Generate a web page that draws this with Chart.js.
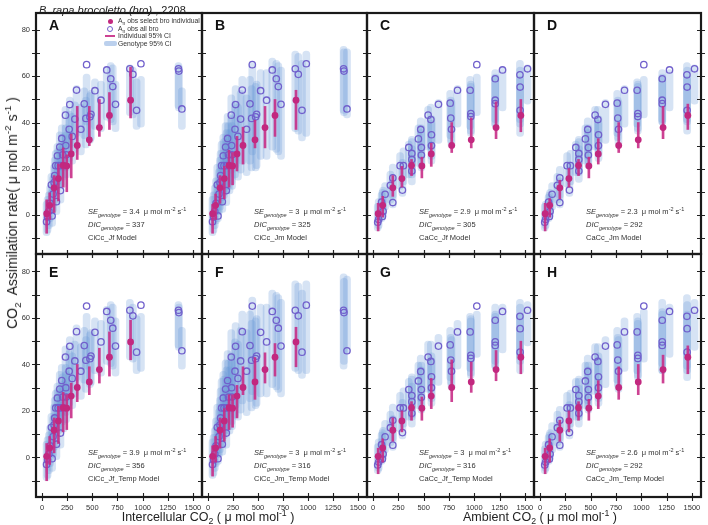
<!DOCTYPE html>
<html>
<head>
<meta charset="utf-8">
<script src="https://cdn.jsdelivr.net/npm/chart.js@4.4.1/dist/chart.umd.min.js"></script>
<style>
  body { margin: 0; width: 708px; height: 525px; background: #fff; position: relative; overflow: hidden;
         font-family: "Liberation Sans", Arial, Helvetica, sans-serif; color: #222; }
  canvas { position: absolute; }
  .t { position: absolute; white-space: nowrap; line-height: 1; z-index: 5; }
  .t sub, .t sup { line-height: 0; }
  .ann { font-size: 7.5px; color: #333; transform: translateY(-50%); }
  .ann sub, .ann sup { font-size: 5.5px; }
  .letter { font-size: 14px; font-weight: bold; color: #111; transform: translateY(-50%); }
  .axt { color: #222; }
  .axt sub, .axt sup { font-size: 70%; }
  .leg { font-size: 6.8px; color: #333; transform: translateY(-50%); }
  .leg sub { font-size: 5px; }
  .sym { position: absolute; z-index: 5; }
</style>
</head>
<body>
<script>
// tick positions
const xTicks = [0, 250, 500, 750, 1000, 1250, 1500];
const yTicks = [-10, 0, 10, 20, 30, 40, 50, 60, 70, 80];

// A_n obs all bro, against intercellular CO2 (panels A, B, E, F)
const ciX = [45, 55, 68, 80, 93, 100, 110, 120, 126, 136, 143, 153, 160, 176, 183, 185, 196, 205, 215, 233,
             236, 240, 270, 276, 300, 326, 343, 386, 420, 436, 443, 476, 486, 526, 586, 643, 683, 703, 730, 873,
             903, 940, 983, 1356, 1360, 1390];
const ciY = [-3, -1, 1.5, 5, 13, -0.5, 9, 14, 17, 21.3, 5.7, 25.6, 21.3, 29.4, 10.5, 21.3, 33.1, 26, 21.3, 43.2,
             30, 26, 37.1, 47.8, 34, 41.5, 54.1, 37.1, 48.1, 41.8, 65.1, 42.5, 43.6, 53.8, 49.7, 62.8, 59, 55.6, 47.9, 63.3,
             60.9, 45.3, 65.5, 63.3, 62.3, 45.9];
// selected individual
const ciSelX = [46, 76, 120, 163, 210, 246, 290, 350, 470, 570, 670, 880];
const ciSelY = [0.5, 4.1, 11.7, 15.7, 21.4, 21.2, 26.4, 30.1, 32.5, 37.8, 43.1, 49.7];

// A_n obs all bro, against ambient CO2 (panels C, D, G, H)
const caX = [46, 55, 84, 92, 99, 119, 171, 195, 195, 267, 290, 300, 353, 383, 383, 383, 448, 471, 477, 477,
             544, 571, 577, 577, 646, 762, 768, 775, 834, 959, 966, 966, 1025, 1207, 1207, 1207, 1279, 1451, 1453, 1453,
             1526];
const caY = [-3.2, -2, 5.5, -0.7, 1.5, 8.9, 12.8, 5.3, 16, 21.3, 10.7, 21.3, 29.2, 26.6, 24, 19, 32.9, 37, 29.2, 25.9,
             43.2, 41.3, 34.7, 30, 47.9, 48.4, 41.9, 37.1, 54, 54, 43.9, 42.6, 65.1, 59, 49.7, 48.2, 62.8, 60.7, 55.4, 45.3,
             63.3];
const caSelX = [50, 95, 195, 285, 380, 482, 575, 777, 970, 1215, 1460];
const caSelY = [0.5, 4.1, 11.7, 15.7, 21.4, 21.2, 26.4, 30.1, 32.5, 37.8, 43.1];

// genotype 95% CI (one bar per observation)
const aLo = [-9, -8, -6, -3, 2, -5, 1, 4, 7, 10, 0, 13, 11, 16, 5, 12, 19, 15, 12, 25, 19, 16, 23, 29, 22, 27, 34, 26, 33, 29, 39, 31, 32, 37, 36, 41, 40, 39, 36, 43, 42, 37, 38, 46, 45, 37];
const aHi = [6, 8, 10, 13, 18, 11, 17, 22, 25, 28, 18, 31, 29, 36, 23, 30, 39, 35, 32, 47, 39, 36, 45, 51, 44, 49, 56, 48, 55, 51, 61, 53, 54, 59, 58, 64, 66, 65, 58, 65, 64, 59, 60, 66, 65, 55];
const bLo = [-9, -8, -6, -4, 0, -3, 0, 2, 4, 6, 1, 8, 7, 11, 4, 9, 13, 11, 9, 18, 13, 11, 16, 20, 15, 18, 22, 17, 22, 19, 26, 19, 20, 24, 24, 28, 27, 26, 24, 36, 35, 32, 34, 44, 43, 42];
const bHi = [8, 10, 13, 16, 22, 15, 20, 25, 28, 32, 22, 35, 33, 40, 28, 37, 44, 40, 37, 52, 43, 40, 49, 56, 48, 54, 60, 52, 60, 56, 66, 57, 58, 63, 63, 68, 67, 66, 64, 71, 70, 67, 71, 73, 72, 72];
const eLo = [-10, -9, -7, -4, 1, -6, 0, 3, 6, 9, -1, 12, 10, 15, 4, 11, 18, 14, 11, 24, 18, 15, 22, 28, 21, 26, 33, 25, 32, 28, 38, 30, 31, 36, 35, 40, 39, 38, 35, 42, 41, 36, 37, 47, 46, 38];
const eHi = [7, 9, 11, 14, 19, 12, 18, 23, 26, 29, 19, 32, 30, 37, 24, 31, 40, 36, 33, 48, 40, 37, 46, 52, 45, 50, 57, 49, 56, 52, 62, 54, 55, 60, 59, 65, 67, 66, 60, 68, 66, 61, 62, 67, 66, 56];
const fLo = [-9, -8, -6, -4, 0, -3, 0, 2, 4, 7, 1, 9, 8, 12, 4, 10, 14, 12, 10, 19, 14, 12, 17, 21, 16, 19, 23, 18, 24, 20, 27, 21, 22, 26, 26, 30, 29, 28, 26, 37, 36, 34, 36, 38, 40, 45];
const fHi = [8, 10, 13, 17, 23, 16, 21, 26, 30, 34, 23, 37, 35, 42, 29, 39, 46, 42, 39, 55, 45, 42, 51, 58, 50, 56, 63, 55, 63, 59, 69, 60, 61, 66, 66, 72, 71, 70, 68, 76, 75, 72, 76, 79, 77, 78];

const cLo = [-7, -6, -3, -2, -1, 2, 5, 3, 7, 11, 8, 13, 16, 17, 16, 13, 21, 24, 21, 19, 28, 28, 24, 22, 31, 33, 31, 29, 38, 37, 34, 35, 43, 40, 38, 38, 45, 40, 38, 34, 48];
const cHi = [5, 7, 10, 11, 12, 14, 19, 17, 22, 27, 24, 29, 32, 34, 33, 30, 39, 42, 39, 37, 47, 48, 43, 41, 50, 54, 51, 50, 56, 60, 57, 58, 61, 63, 60, 61, 64, 67, 64, 60, 65];
const dLo = [-7, -6, -3, -2, -1, 2, 5, 3, 7, 12, 8, 13, 17, 18, 17, 14, 22, 24, 22, 20, 28, 28, 25, 23, 31, 34, 32, 30, 38, 38, 35, 36, 42, 40, 39, 39, 45, 40, 39, 35, 48];
const dHi = [5, 6, 9, 10, 11, 14, 18, 16, 21, 27, 23, 28, 32, 34, 33, 30, 39, 42, 39, 37, 47, 47, 43, 41, 50, 54, 51, 50, 56, 59, 57, 58, 60, 63, 60, 61, 63, 66, 64, 60, 65];
const gLo = [-7, -6, -3, -2, -1, 2, 5, 3, 7, 11, 8, 13, 16, 17, 16, 13, 21, 24, 21, 19, 28, 28, 24, 22, 31, 33, 31, 29, 38, 37, 34, 35, 43, 40, 38, 38, 45, 42, 40, 36, 48];
const gHi = [6, 8, 11, 12, 13, 16, 20, 18, 23, 28, 25, 30, 34, 36, 35, 32, 41, 44, 41, 39, 50, 50, 45, 43, 53, 56, 53, 52, 59, 62, 60, 61, 63, 66, 62, 63, 66, 68, 66, 62, 67];
const hLo = [-7, -6, -3, -2, -1, 2, 5, 3, 7, 11, 8, 13, 16, 17, 16, 13, 21, 23, 21, 19, 27, 27, 24, 22, 30, 32, 30, 28, 37, 36, 33, 34, 41, 39, 36, 36, 43, 38, 36, 33, 46];
const hHi = [5, 7, 10, 11, 12, 15, 20, 17, 22, 28, 24, 29, 34, 35, 34, 31, 41, 44, 41, 39, 49, 49, 45, 43, 52, 56, 53, 52, 60, 62, 59, 60, 64, 68, 63, 64, 66, 70, 67, 63, 68];

// individual 95% CI (selected individual)
const aIndLo = [-8, -2, 1, 6, 12, 10, 16, 24, 30, 34, 37, 42];
const aIndHi = [6.5, 9.5, 17, 22, 29, 26, 35, 47, 47, 50, 53, 64];
const bIndLo = [-8, -2, 5, 7, 12, 13, 19, 22, 29, 29, 34, 37];
const bIndHi = [4.5, 9, 17, 21, 28, 27, 34, 38, 41, 47, 50, 54];
const eIndLo = [-10, -3, 2, 6, 11, 12, 17, 24, 27, 32, 35, 42];
const eIndHi = [6, 9, 17, 22, 28, 27, 32, 40, 39, 47, 54, 59];
const fIndLo = [-8, -2, 4, 7, 12, 13, 17, 27, 25, 32, 35, 39];
const fIndHi = [5, 9, 17, 21, 27, 27, 31, 39, 43, 45, 49, 56];
const cIndLo = [-7, -1, 8, 12, 17, 16, 21, 27, 29, 33, 36];
const cIndHi = [5, 8, 17, 21, 24, 25, 31, 40, 42, 49, 50];
const dIndLo = [-7, -1, 7, 12, 17, 16, 22, 27, 29, 33, 37];
const dIndHi = [5, 7, 15, 20, 24, 25, 33, 40, 40, 47, 48];
const gIndLo = [-7, -2, 7, 11, 16, 16, 21, 24, 28, 33, 36];
const gIndHi = [4, 8, 17, 20, 24, 26, 34, 42, 41, 46, 50];
const hIndLo = [-7, -2, 7, 11, 16, 16, 21, 25, 27, 32, 36];
const hIndHi = [4, 8, 16, 20, 24, 25, 33, 39, 40, 44, 48];

const panels = [
  { id: 'A', col: 0, row: 0, x: ciX, y: ciY, sx: ciSelX, sy: ciSelY, lo: aLo, hi: aHi, ilo: aIndLo, ihi: aIndHi, se: '3.4', dic: '337', model: 'CiCc_Jf Model' },
  { id: 'B', col: 1, row: 0, x: ciX, y: ciY, sx: ciSelX, sy: ciSelY, lo: bLo, hi: bHi, ilo: bIndLo, ihi: bIndHi, se: '3', dic: '325', model: 'CiCc_Jm Model' },
  { id: 'C', col: 2, row: 0, x: caX, y: caY, sx: caSelX, sy: caSelY, lo: cLo, hi: cHi, ilo: cIndLo, ihi: cIndHi, se: '2.9', dic: '305', model: 'CaCc_Jf Model' },
  { id: 'D', col: 3, row: 0, x: caX, y: caY, sx: caSelX, sy: caSelY, lo: dLo, hi: dHi, ilo: dIndLo, ihi: dIndHi, se: '2.3', dic: '292', model: 'CaCc_Jm Model' },
  { id: 'E', col: 0, row: 1, x: ciX, y: ciY, sx: ciSelX, sy: ciSelY, lo: eLo, hi: eHi, ilo: eIndLo, ihi: eIndHi, se: '3.9', dic: '356', model: 'CiCc_Jf_Temp Model' },
  { id: 'F', col: 1, row: 1, x: ciX, y: ciY, sx: ciSelX, sy: ciSelY, lo: fLo, hi: fHi, ilo: fIndLo, ihi: fIndHi, se: '3', dic: '316', model: 'CiCc_Jm_Temp Model' },
  { id: 'G', col: 2, row: 1, x: caX, y: caY, sx: caSelX, sy: caSelY, lo: gLo, hi: gHi, ilo: gIndLo, ihi: gIndHi, se: '3', dic: '316', model: 'CaCc_Jf_Temp Model' },
  { id: 'H', col: 3, row: 1, x: caX, y: caY, sx: caSelX, sy: caSelY, lo: hLo, hi: hHi, ilo: hIndLo, ihi: hIndHi, se: '2.6', dic: '292', model: 'CaCc_Jm_Temp Model' },
];

// panel edges on the page
const COLS = [36, 202, 367, 534, 701];
const ROWS = [13, 254, 497];
const PAD = 8;

const PINK = '#c2287f';
const PURPLE = '#7160cc';
const BLUE = 'rgba(105,150,215,0.27)';

// frame + ticks crossing the frame, at the scale's own tick values
const frameTicks = {
  id: 'frameTicks',
  afterDraw(chart, args, opts) {
    const { ctx, chartArea: a, scales: { x, y } } = chart;
    const T = 4;
    ctx.save();
    ctx.strokeStyle = '#222';
    ctx.lineWidth = 1.1;
    ctx.beginPath();
    yTicks.forEach(v => {
      const py = Math.round(y.getPixelForValue(v)) + 0.5;
      ctx.moveTo(a.left - T, py); ctx.lineTo(a.left + T, py);
      ctx.moveTo(a.right - T, py); ctx.lineTo(a.right + T, py);
    });
    xTicks.forEach(v => {
      const px = Math.round(x.getPixelForValue(v)) + 0.5;
      ctx.moveTo(px, a.bottom - T); ctx.lineTo(px, a.bottom + T);
      if (opts.top) { ctx.moveTo(px, a.top - T); ctx.lineTo(px, a.top + T); }
    });
    ctx.stroke();
    ctx.lineWidth = 2.2;
    ctx.strokeStyle = '#1a1a1a';
    ctx.strokeRect(a.left, a.top, a.right - a.left, a.bottom - a.top);
    ctx.restore();
  }
};

function addText(html, left, top, cls, extra) {
  const d = document.createElement('div');
  d.className = 't ' + (cls || '');
  d.innerHTML = html;
  d.style.left = left + 'px';
  d.style.top = top + 'px';
  if (extra) Object.assign(d.style, extra);
  document.body.appendChild(d);
  return d;
}

function makePanel(p) {
  const left = COLS[p.col], right = COLS[p.col + 1];
  const top = ROWS[p.row], bottom = ROWS[p.row + 1];
  const padL = p.col === 0 ? left : PAD;
  const padB = p.row === 1 ? 24 : PAD;
  const w = right - left + padL + PAD;
  const h = bottom - top + PAD + padB;

  const cv = document.createElement('canvas');
  cv.width = w; cv.height = h;
  cv.style.left = (left - padL) + 'px';
  cv.style.top = (top - PAD) + 'px';
  cv.style.width = w + 'px'; cv.style.height = h + 'px';
  document.body.appendChild(cv);

  const tickFont = { size: 7.5, family: '"Liberation Sans", Arial, sans-serif' };

  new Chart(cv, {
    type: 'bar',
    data: {
      datasets: [
        {
          label: 'Genotype 95% CI',
          data: p.x.map((v, i) => ({ x: v, y: [p.lo[i], p.hi[i]] })),
          backgroundColor: BLUE,
          barThickness: 7,
          borderRadius: 3.5,
          borderSkipped: false,
          stack: 's',
          order: 3
        },
        {
          type: 'scatter',
          label: 'A_n obs all bro',
          data: p.x.map((v, i) => ({ x: v, y: p.y[i] })),
          pointStyle: 'circle',
          pointRadius: 3.2,
          pointBorderWidth: 1.3,
          borderColor: PURPLE,
          backgroundColor: 'rgba(0,0,0,0)',
          order: 2
        },
        {
          label: 'Individual 95% CI',
          data: p.sx.map((v, i) => ({ x: v, y: [p.ilo[i], p.ihi[i]] })),
          backgroundColor: 'rgba(200,45,135,0.9)',
          barThickness: 2,
          stack: 's',
          order: 1
        },
        {
          type: 'scatter',
          label: 'A_n obs select bro individual',
          data: p.sx.map((v, i) => ({ x: v, y: p.sy[i] })),
          pointRadius: 3.4,
          borderWidth: 0,
          backgroundColor: PINK,
          order: 0
        }
      ]
    },
    options: {
      responsive: false,
      animation: false,
      layout: { padding: { left: 0, top: PAD, right: PAD, bottom: 0 } },
      plugins: { legend: { display: false }, tooltip: { enabled: false }, frameTicks: { top: p.row === 1 } },
      scales: {
        x: {
          type: 'linear', min: -60, max: 1590, offset: false,
          grid: { display: false, drawTicks: false, offset: false }, border: { display: false },
          afterBuildTicks: s => { s.ticks = xTicks.map(v => ({ value: v })); },
          afterFit: s => { s.height = padB; s.paddingLeft = 0; s.paddingRight = 0; },
          ticks: { display: p.row === 1, autoSkip: false, maxRotation: 0, padding: 6, color: '#333',
                   callback: v => String(v), font: tickFont }
        },
        y: {
          type: 'linear', min: -17, max: 87.5, stacked: false,
          grid: { display: false, drawTicks: false }, border: { display: false },
          afterBuildTicks: s => { s.ticks = yTicks.map(v => ({ value: v })); },
          afterFit: s => { s.width = padL; s.paddingTop = 0; s.paddingBottom = 0; },
          ticks: { display: p.col === 0, padding: 6, color: '#333',
                   callback: v => (v % 20 === 0 ? String(v) : ''), font: tickFont }
        }
      }
    },
    plugins: [frameTicks]
  });

  // panel letter and model summary
  addText(p.id, left + 13, top + (p.row === 0 ? 12 : 18), 'letter');
  const tx = left + 52, ty = top + 199;
  addText('<i>SE</i><sub><i>genotype</i></sub> = ' + p.se + '&nbsp; μ mol m<sup>-2</sup> s<sup>-1</sup>', tx, ty, 'ann');
  addText('<i>DIC</i><sub><i>genotype</i></sub> = ' + p.dic, tx, ty + 13, 'ann');
  addText(p.model, tx, ty + 26, 'ann');
}

panels.forEach(makePanel);

// title and axis titles
addText('<i>B. rapa brocoletto (bro)</i> , 2208', 39, 10, '', { fontSize: '11px', color: '#222', transform: 'translateY(-50%)' });
addText('CO<sub>2</sub>&nbsp; Assimilation rate( μ mol m<sup>-2</sup> s<sup>-1</sup> )', 12, 213, 'axt',
        { fontSize: '14px', transform: 'translate(-50%,-50%) rotate(-90deg)' });
addText('Intercellular CO<sub>2</sub> ( μ mol mol<sup>-1</sup> )', 208, 517, 'axt', { fontSize: '12.5px', transform: 'translate(-50%,-50%)' });
addText('Ambient CO<sub>2</sub> ( μ mol mol<sup>-1</sup> )', 540, 517, 'axt', { fontSize: '12.5px', transform: 'translate(-50%,-50%)' });

// legend inside panel A
function sym(css) {
  const d = document.createElement('div');
  d.className = 'sym';
  Object.assign(d.style, css);
  document.body.appendChild(d);
}
sym({ left: '107.5px', top: '18.5px', width: '5px', height: '5px', borderRadius: '50%', background: PINK });
sym({ left: '107px', top: '25.5px', width: '4px', height: '4px', borderRadius: '50%', border: '1.2px solid ' + PURPLE });
sym({ left: '105px', top: '35px', width: '10px', height: '2px', background: 'rgba(200,45,135,0.9)' });
sym({ left: '104px', top: '41px', width: '13px', height: '5px', borderRadius: '2px', background: 'rgba(105,150,215,0.45)' });
addText('A<sub>n</sub> obs select bro individual', 118, 21, 'leg');
addText('A<sub>n</sub> obs all bro', 118, 28.5, 'leg');
addText('Individual 95% CI', 118, 36, 'leg');
addText('Genotype 95% CI', 118, 43.5, 'leg');
</script>
</body>
</html>
